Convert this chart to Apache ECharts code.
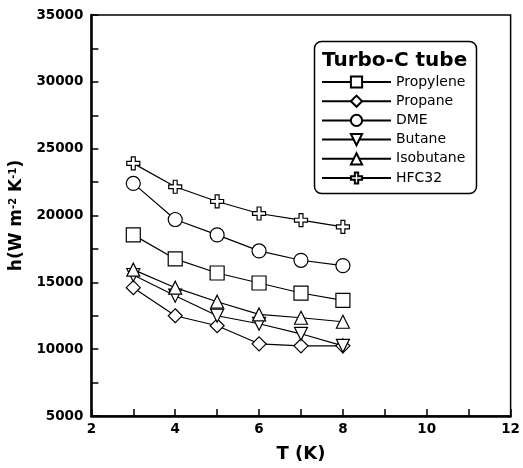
<!DOCTYPE html>
<html>
<head>
<meta charset="utf-8">
<script src="https://cdn.jsdelivr.net/npm/echarts@6/dist/echarts.min.js"></script>
<style>
    html, body { margin: 0; padding: 0; background: #fff; }
    #chart { width: 523px; height: 468px; }
</style>
</head>
<body>
<div id="chart"></div>
<script>
// temperature points (K)
const temps = [3, 4, 5, 6, 7, 8]
const seriesNames = ['Propylene', 'Propane', 'DME', 'Butane', 'Isobutane', 'HFC32']
const propylene = [18550, 16750, 15700, 14950, 14200, 13650]
const propane = [14600, 12500, 11750, 10400, 10250, 10250]
const dme = [22400, 19700, 18550, 17350, 16650, 16250]
const butane = [15550, 14000, 12500, 11900, 11150, 10250]
const isobutane = [15950, 14600, 13550, 12600, 12350, 12050]
const hfc32 = [23900, 22150, 21050, 20150, 19650, 19150]

const plusPath = 'path://M3.5,0 H6.5 V3.5 H10 V6.5 H6.5 V10 H3.5 V6.5 H0 V3.5 H3.5 Z'
const symbols = ['rect', 'diamond', 'circle', 'triangle', 'triangle', plusPath]
const rotates = [0, 0, 0, 180, 0, 0]
const sizes = [14, 14, 14, 13, 13, 13]
const values = [propylene, propane, dme, butane, isobutane, hfc32]

const chart = echarts.init(document.getElementById('chart'))
const font = 'DejaVu Sans, sans-serif'

const option = {
    animation: false,
    backgroundColor: '#fff',
    grid: {
        left: 91,
        right: 12,
        top: 15,
        bottom: 50,
        show: true,
        borderColor: '#000',
        borderWidth: 1.5
    },
    xAxis: {
        type: 'value',
        min: 2,
        max: 12,
        interval: 1,
        name: 'T (K)',
        nameLocation: 'middle',
        nameGap: 29,
        nameTextStyle: { fontFamily: font, fontWeight: 'bold', fontSize: 18, color: '#000' },
        axisLine: { lineStyle: { color: '#000', width: 2.5 } },
        axisTick: { inside: true, length: 7, lineStyle: { color: '#000', width: 1.5 } },
        axisLabel: {
            fontFamily: font,
            fontWeight: 'bold',
            fontSize: 13.5,
            color: '#000',
            margin: 6,
            formatter: v => (v % 2 === 0 ? String(v) : '')
        },
        splitLine: { show: false }
    },
    yAxis: {
        type: 'value',
        min: 5000,
        max: 35000,
        interval: 2500,
        name: 'h(W m{sup|-2} K{sup|-1})',
        nameLocation: 'middle',
        nameGap: 62,
        nameTextStyle: {
            fontFamily: font,
            fontWeight: 'bold',
            fontSize: 17,
            color: '#000',
            rich: {
                sup: { fontFamily: font, fontWeight: 'bold', fontSize: 10, color: '#000', verticalAlign: 'top', padding: [0, 0, 8, 0] }
            }
        },
        axisLine: { lineStyle: { color: '#000', width: 2.5 } },
        axisTick: { inside: true, length: 7, lineStyle: { color: '#000', width: 1.5 } },
        axisLabel: {
            fontFamily: font,
            fontWeight: 'bold',
            fontSize: 13.5,
            color: '#000',
            margin: 8,
            formatter: v => (v % 5000 === 0 ? String(v) : '')
        },
        splitLine: { show: false }
    },
    legend: {
        orient: 'vertical',
        left: 321,
        top: 75,
        padding: 0,
        itemWidth: 69,
        itemHeight: 14,
        itemGap: 5.2,
        data: seriesNames,
        textStyle: { fontFamily: font, fontSize: 14, color: '#000' }
    },
    graphic: [
        {
            type: 'rect',
            shape: { x: 314.5, y: 41.5, width: 162, height: 152, r: 7 },
            style: { fill: 'none', stroke: '#000', lineWidth: 1.5 },
            z: 10
        },
        {
            type: 'text',
            left: 322,
            top: 51,
            style: { text: 'Turbo-C tube', fontFamily: font, fontWeight: 'bold', fontSize: 20, fill: '#000' },
            z: 10
        }
    ],
    series: seriesNames.map((name, i) => ({
        name: name,
        type: 'line',
        data: temps.map((t, j) => [t, values[i][j]]),
        symbol: symbols[i],
        symbolRotate: rotates[i],
        symbolSize: sizes[i],
        showAllSymbol: true,
        lineStyle: { color: '#000', width: 1.2 },
        itemStyle: { color: '#fff', borderColor: '#000', borderWidth: 1.2 }
    }))
}

chart.setOption(option)
</script>
</body>
</html>
